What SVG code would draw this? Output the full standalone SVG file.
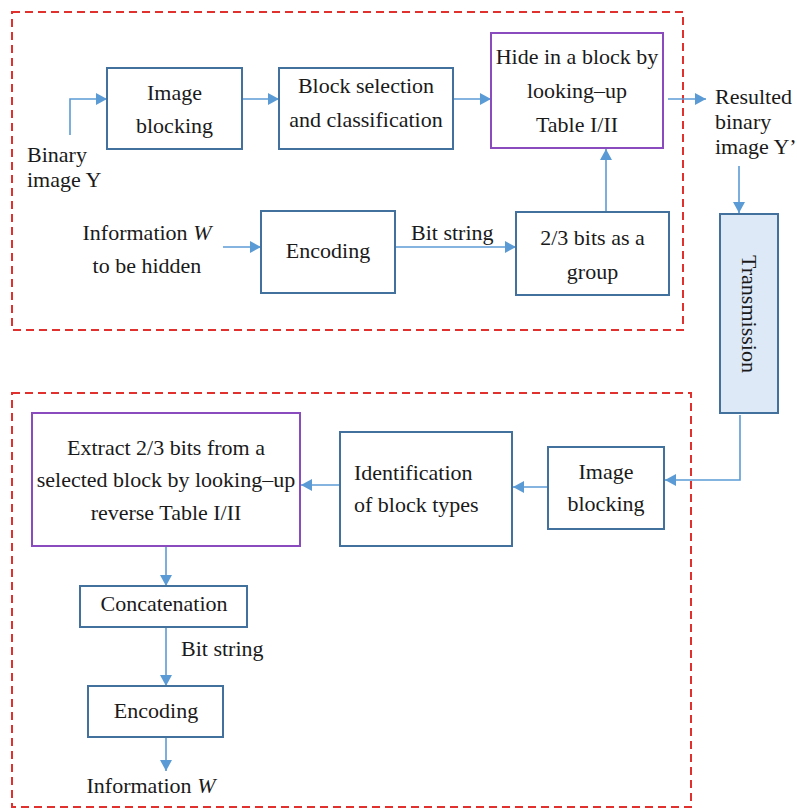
<svg xmlns="http://www.w3.org/2000/svg" width="797" height="809" viewBox="0 0 797 809" font-family="'Liberation Serif', 'Times New Roman', Times, 'DejaVu Serif', serif">
<style>
.box{fill:#fff;stroke:#41719c;stroke-width:2}
.pbox{fill:#fff;stroke:#8a4bbf;stroke-width:2}
.tbox{fill:#dde9f6;stroke:#41719c;stroke-width:2}
.dash{fill:none;stroke:#e0312f;stroke-width:2;stroke-dasharray:8 5}
.con{fill:none;stroke:#5b9bd5;stroke-width:1.6;marker-end:url(#ah)}
text{font-family:'Liberation Serif','Times New Roman',Times,'DejaVu Serif',serif;font-size:22px;fill:#1a1a1a}
.m{text-anchor:middle}
</style>
<defs>
<marker id="ah" markerUnits="userSpaceOnUse" markerWidth="12" markerHeight="12" refX="11" refY="6" orient="auto">
<path d="M0,0 L11,6 L0,12 z" fill="#5b9bd5"/>
</marker>
</defs>
<g id="regions">
<rect class="dash" x="12" y="12" width="671" height="318"/>
<rect class="dash" x="12" y="393" width="679" height="414"/>
</g>
<g id="connectors">
<path class="con" d="M70,135 V99 H107"/>
<path class="con" d="M242,99 H279"/>
<path class="con" d="M453,99 H491"/>
<path class="con" d="M668,99 H706"/>
<path class="con" d="M739,166 V213"/>
<path class="con" d="M606,212 V149"/>
<path class="con" d="M395,247 H516"/>
<path class="con" d="M223,247 H261"/>
<path class="con" d="M740,415 V480 H665"/>
<path class="con" d="M548,487 H513"/>
<path class="con" d="M340,485 H301"/>
<path class="con" d="M166,547 V586"/>
<path class="con" d="M166,628 V686"/>
<path class="con" d="M166,738 V771"/>
</g>
<g id="binary-y">
<text x="27" y="162">Binary</text>
<text x="27" y="187">image Y</text>
</g>
<g id="image-blocking-1">
<rect class="box" x="107" y="68" width="135" height="81"/>
<text class="m" x="174.5" y="100">Image</text>
<text class="m" x="174.5" y="133">blocking</text>
</g>
<g id="block-selection">
<rect class="box" x="279" y="68" width="174" height="81"/>
<text class="m" x="366" y="93">Block selection</text>
<text class="m" x="366" y="127">and classification</text>
</g>
<g id="hide">
<rect class="pbox" x="491" y="33" width="172" height="115"/>
<text class="m" x="577" y="64">Hide in a block by</text>
<text class="m" x="577" y="98">looking–up</text>
<text class="m" x="577" y="132">Table I/II</text>
</g>
<g id="resulted">
<text x="715" y="104">Resulted</text>
<text x="715" y="129">binary</text>
<text x="715" y="154">image Y’</text>
</g>
<g id="information-w-in">
<text class="m" x="147" y="240">Information <tspan font-style="italic">W</tspan></text>
<text class="m" x="147" y="273">to be hidden</text>
</g>
<g id="encoding-1">
<rect class="box" x="261" y="211" width="134" height="82"/>
<text class="m" x="328" y="258">Encoding</text>
</g>
<g id="bit-string-1">
<text x="411" y="240">Bit string</text>
</g>
<g id="bits-group">
<rect class="box" x="516" y="212" width="153" height="83"/>
<text class="m" x="592.5" y="245">2/3 bits as a</text>
<text class="m" x="592.5" y="279">group</text>
</g>
<g id="transmission">
<rect class="tbox" x="720" y="214" width="58" height="199"/>
<text class="m" transform="translate(742,314) rotate(90)">Transmission</text>
</g>
<g id="image-blocking-2">
<rect class="box" x="548" y="447" width="116" height="82"/>
<text class="m" x="606" y="479">Image</text>
<text class="m" x="606" y="511">blocking</text>
</g>
<g id="identification">
<rect class="box" x="340" y="432" width="172" height="114"/>
<text x="354" y="480">Identification</text>
<text x="354" y="512">of block types</text>
</g>
<g id="extract">
<rect class="pbox" x="32" y="413" width="268" height="133"/>
<text class="m" x="166" y="455">Extract 2/3 bits from a</text>
<text class="m" x="166" y="487">selected block by looking–up</text>
<text class="m" x="166" y="520">reverse Table I/II</text>
</g>
<g id="concatenation">
<rect class="box" x="80" y="586" width="167" height="41"/>
<text class="m" x="164" y="611">Concatenation</text>
</g>
<g id="bit-string-2">
<text x="181" y="656">Bit string</text>
</g>
<g id="encoding-2">
<rect class="box" x="88" y="686" width="135" height="51"/>
<text class="m" x="156" y="718">Encoding</text>
</g>
<g id="information-w-out">
<text class="m" x="151" y="793">Information <tspan font-style="italic">W</tspan></text>
</g>
</svg>
